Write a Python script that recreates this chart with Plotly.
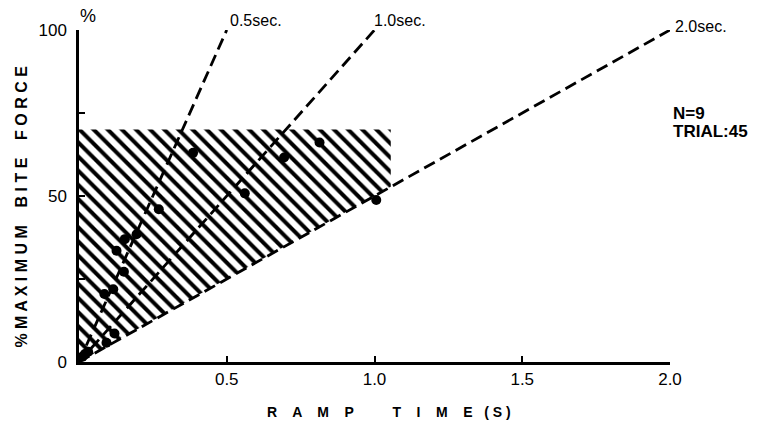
import plotly.graph_objects as go

# Data
ramp_time = [0.386, 0.270, 0.195, 0.155, 0.127, 0.152, 0.086, 0.116, 0.120, 0.093,
             0.031, 0.012, 0.020, 0.694, 0.814, 0.561, 1.006]
bite_force = [63.0, 46.0, 38.5, 37.0, 33.5, 27.2, 20.5, 21.9, 8.6, 5.8,
              3.1, 1.6, 2.4, 61.6, 66.1, 50.8, 48.8]

ramp_durations = [0.5, 1.0, 2.0]          # seconds to reach 100 %
ramp_labels = ["0.5sec.", "1.0sec.", "2.0sec."]

hatch_top = 70        # % upper bound of the hatched zone
hatch_right = 1.055   # s right bound of the hatched zone
hatch_slowest = 2.0   # lower edge follows the 2.0 sec ramp

x_ticks = [0.5, 1.0, 1.5, 2.0]
x_ticktext = ["0.5", "1.0", "1.5", "2.0"]
y_ticks = [0, 25, 50, 75, 100]
y_ticktext = ["0", "", "50", "", "100"]

FONT = "Liberation Sans, Arial, Helvetica, sans-serif"

fig = go.Figure()

# hatched zone
hx = [0, 0, hatch_right, hatch_right, 0]
hy = [0, hatch_top, hatch_top, 100 * hatch_right / hatch_slowest, 0]
fig.add_trace(go.Scatter(
    x=hx, y=hy, mode="lines", fill="toself",
    fillcolor="rgba(0,0,0,0)",
    fillpattern=dict(shape="\\", size=10, solidity=0.4, fgcolor="black",
                     fgopacity=1, bgcolor="white", fillmode="replace"),
    line=dict(width=0), hoverinfo="skip", showlegend=False))

# ramp lines
for d in ramp_durations:
    fig.add_trace(go.Scatter(
        x=[0, d], y=[0, 100], mode="lines",
        line=dict(color="black", width=2.8, dash="12px,6px"),
        showlegend=False, hoverinfo="skip", cliponaxis=False))

# data points
fig.add_trace(go.Scatter(
    x=ramp_time, y=bite_force, mode="markers",
    marker=dict(color="black", size=10),
    showlegend=False, cliponaxis=False))

label_shifts = [(1, 10), (-3, 10), (3, 4)]   # pixel offsets of ramp labels

annotations = []
for d, lab, (sx, sy) in zip(ramp_durations, ramp_labels, label_shifts):
    annotations.append(dict(x=d, y=100, xref="x", yref="y", text=lab,
                            showarrow=False, xanchor="left", yanchor="middle",
                            xshift=sx, yshift=sy,
                            font=dict(family=FONT, size=16, color="black")))
annotations += [
    dict(x=0, y=100, xref="x", yref="y", text="%", showarrow=False,
         xanchor="left", yanchor="bottom", xshift=-1, yshift=2,
         font=dict(family=FONT, size=18, color="black")),
    dict(x=2.0, y=75, xref="x", yref="y", text="<b>N=9</b>",
         showarrow=False, xanchor="left", yanchor="middle", align="left", xshift=1,
         font=dict(family=FONT, size=17, color="black")),
    dict(x=2.0, y=69.3, xref="x", yref="y", text="<b>TRIAL:45</b>",
         showarrow=False, xanchor="left", yanchor="middle", align="left", xshift=1,
         font=dict(family=FONT, size=17, color="black")),
    dict(x=0, y=0.468, xref="paper", yref="paper",
         text="<b>% M A X I M U M    B I T E    F O R C E</b>",
         textangle=-90, showarrow=False, xanchor="center", yanchor="middle",
         font=dict(family=FONT, size=16, color="black"), xshift=-57),
    dict(x=0.525, y=0, xref="paper", yref="paper",
         text="<b>R    A    M    P          T    I    M    E   ( S )</b>",
         showarrow=False, xanchor="center", yanchor="middle", yshift=-50,
         font=dict(family=FONT, size=14, color="black")),
]

fig.update_layout(
    width=769, height=423,
    margin=dict(l=79, r=99, t=30, b=61, autoexpand=False),
    paper_bgcolor="white", plot_bgcolor="white",
    annotations=annotations,
    xaxis=dict(range=[0, 2.0], showgrid=False, zeroline=False,
               showline=True, linecolor="black", linewidth=2.5,
               tickvals=x_ticks, ticktext=x_ticktext, ticks="inside",
               ticklen=6, tickwidth=2, tickcolor="black", automargin=False,
               tickfont=dict(family=FONT, size=17, color="black")),
    yaxis=dict(range=[0, 100], showgrid=False, zeroline=False,
               showline=True, linecolor="black", linewidth=2.5,
               tickvals=y_ticks, ticktext=y_ticktext, ticks="inside",
               ticklen=6, tickwidth=2, tickcolor="black", automargin=False,
               ticklabelstandoff=6,
               tickfont=dict(family=FONT, size=17, color="black")),
)

fig.write_html("out.html", config={"displayModeBar": False},
               post_script="document.body.style.margin='0px';document.body.style.overflow='hidden';")
